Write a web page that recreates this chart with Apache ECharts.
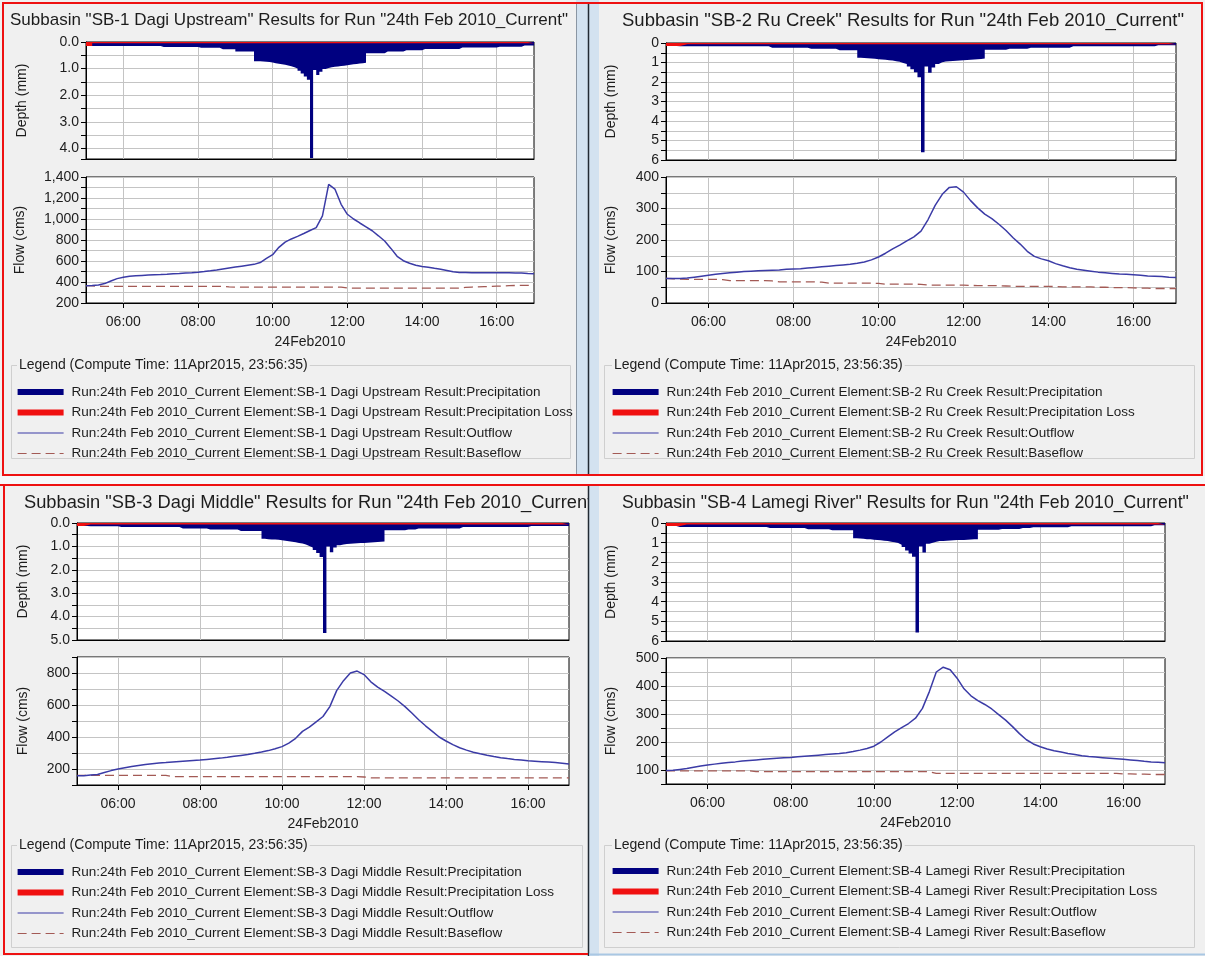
<!DOCTYPE html>
<html><head><meta charset="utf-8">
<script src="https://cdn.jsdelivr.net/npm/echarts@6/dist/echarts.min.js"></script>
<style>html,body{margin:0;padding:0;background:#f0f0f0}#c{width:1205px;height:956px}</style>
</head><body><div id="c"></div>
<script>
// ---------------- DATA ----------------
const SUBBASINS = ['SB-1 Dagi Upstream', 'SB-2 Ru Creek', 'SB-3 Dagi Middle', 'SB-4 Lamegi River'];
const RUN_NAME = '24th Feb 2010_Current';
const COMPUTE_TIME = '11Apr2015, 23:56:35';
const DATE_LABEL = '24Feb2010';
const TIME_TICKS = ['06:00', '08:00', '10:00', '12:00', '14:00', '16:00'];
const DEPTH_TICKS = [
  ['0.0', '1.0', '2.0', '3.0', '4.0'],
  ['0', '1', '2', '3', '4', '5', '6'],
  ['0.0', '1.0', '2.0', '3.0', '4.0', '5.0'],
  ['0', '1', '2', '3', '4', '5', '6']
];
const FLOW_TICKS = [
  ['200', '400', '600', '800', '1,000', '1,200', '1,400'],
  ['0', '100', '200', '300', '400'],
  ['200', '400', '600', '800'],
  ['100', '200', '300', '400', '500']
];

// precipitation depth (mm) per 5-minute step, 05:00 ... 17:00
const SB1_PRECIP = [
  0.15,0.15,0.15,0.15,0.15,0.15,0.15,0.15,0.15,0.15,0.15,0.15,
  0.15,0.15,0.15,0.15,0.15,0.15,0.15,0.15,0.15,0.15,0.15,0.15,
  0.19,0.19,0.19,0.19,0.19,0.19,0.19,0.19,0.19,0.19,0.19,0.19,
  0.22,0.22,0.22,0.22,0.22,0.22,0.22,0.27,0.27,0.27,0.27,0.27,
  0.36,0.36,0.36,0.36,0.36,0.36,0.72,0.72,0.73,0.74,0.75,0.77,
  0.80,0.82,0.84,0.86,0.88,0.91,0.95,1.00,1.08,1.18,1.30,1.42,
  4.36,1.05,1.24,1.12,1.02,0.98,0.95,0.93,0.92,0.90,0.89,0.87,
  0.86,0.84,0.83,0.81,0.80,0.78,0.42,0.42,0.42,0.42,0.42,0.42,
  0.36,0.36,0.36,0.36,0.36,0.36,0.31,0.31,0.31,0.31,0.31,0.31,
  0.26,0.26,0.26,0.26,0.26,0.26,0.26,0.26,0.26,0.26,0.26,0.26,
  0.21,0.21,0.21,0.21,0.21,0.21,0.21,0.21,0.21,0.21,0.21,0.21,
  0.18,0.18,0.18,0.18,0.18,0.18,0.18,0.18,0.13,0.13,0.13,0.13,
  0.13
];
const SB2_PRECIP = [
  0.15,0.15,0.15,0.17,0.17,0.17,0.17,0.17,0.17,0.17,0.17,0.17,
  0.17,0.17,0.17,0.17,0.17,0.17,0.17,0.17,0.17,0.17,0.17,0.17,
  0.17,0.17,0.17,0.17,0.17,0.24,0.24,0.24,0.24,0.24,0.24,0.24,
  0.24,0.24,0.24,0.24,0.29,0.29,0.29,0.29,0.29,0.29,0.29,0.29,
  0.37,0.37,0.37,0.37,0.37,0.37,0.75,0.77,0.78,0.80,0.81,0.83,
  0.85,0.86,0.88,0.90,0.93,0.96,1.02,1.08,1.20,1.35,1.50,1.75,
  5.60,1.20,1.52,1.25,1.08,0.99,0.95,0.93,0.92,0.91,0.90,0.88,
  0.87,0.86,0.85,0.83,0.82,0.80,0.35,0.35,0.35,0.35,0.35,0.35,
  0.30,0.30,0.30,0.30,0.30,0.30,0.24,0.24,0.24,0.24,0.24,0.24,
  0.24,0.24,0.24,0.24,0.24,0.24,0.17,0.17,0.17,0.17,0.17,0.17,
  0.17,0.17,0.17,0.17,0.17,0.17,0.17,0.17,0.17,0.17,0.17,0.17,
  0.17,0.17,0.17,0.17,0.17,0.17,0.12,0.12,0.12,0.12,0.12,0.12,
  0.12
];
const SB3_PRECIP = [
  0.13,0.13,0.13,0.14,0.14,0.14,0.14,0.14,0.14,0.14,0.14,0.14,
  0.17,0.17,0.17,0.17,0.17,0.17,0.17,0.17,0.17,0.17,0.17,0.17,
  0.17,0.17,0.17,0.17,0.17,0.17,0.24,0.24,0.24,0.24,0.24,0.24,
  0.24,0.24,0.28,0.28,0.28,0.28,0.28,0.28,0.28,0.28,0.28,0.34,
  0.34,0.34,0.34,0.34,0.34,0.34,0.67,0.69,0.70,0.71,0.72,0.74,
  0.76,0.78,0.80,0.82,0.85,0.88,0.92,0.98,1.05,1.15,1.28,1.45,
  4.70,1.00,1.25,1.05,0.95,0.92,0.90,0.89,0.88,0.87,0.86,0.85,
  0.84,0.83,0.82,0.81,0.80,0.79,0.31,0.31,0.31,0.31,0.31,0.31,
  0.28,0.28,0.28,0.24,0.24,0.24,0.24,0.24,0.24,0.24,0.24,0.24,
  0.24,0.24,0.24,0.24,0.17,0.17,0.17,0.17,0.17,0.17,0.17,0.17,
  0.17,0.17,0.17,0.17,0.17,0.17,0.17,0.17,0.17,0.17,0.17,0.17,
  0.13,0.13,0.13,0.13,0.13,0.13,0.13,0.13,0.13,0.13,0.13,0.13,
  0.13
];
const SB4_PRECIP = [
  0.15,0.15,0.15,0.20,0.20,0.20,0.20,0.20,0.20,0.20,0.20,0.20,
  0.20,0.20,0.20,0.20,0.20,0.20,0.20,0.20,0.20,0.20,0.20,0.20,
  0.20,0.20,0.20,0.20,0.20,0.26,0.26,0.26,0.26,0.26,0.26,0.26,
  0.26,0.26,0.26,0.26,0.32,0.32,0.32,0.32,0.32,0.32,0.32,0.37,
  0.37,0.37,0.37,0.37,0.37,0.37,0.77,0.79,0.80,0.82,0.83,0.85,
  0.87,0.88,0.90,0.92,0.95,0.98,1.02,1.10,1.22,1.40,1.55,1.72,
  5.57,1.20,1.50,1.06,1.00,0.95,0.92,0.91,0.90,0.89,0.88,0.87,
  0.86,0.86,0.85,0.84,0.83,0.82,0.34,0.34,0.34,0.34,0.34,0.34,
  0.30,0.30,0.30,0.30,0.30,0.30,0.26,0.26,0.26,0.22,0.22,0.22,
  0.22,0.22,0.22,0.22,0.22,0.22,0.22,0.22,0.17,0.17,0.17,0.17,
  0.17,0.17,0.17,0.17,0.17,0.17,0.17,0.17,0.17,0.17,0.17,0.17,
  0.17,0.17,0.17,0.17,0.17,0.17,0.17,0.17,0.12,0.12,0.12,0.12,
  0.12
];

// precipitation loss (mm) per 10-minute step, 05:00 ... 17:00
const SB1_LOSS = [
  0.15,0.05,0.05,0.05,0.05,0.05, 0.05,0.05,0.05,0.05,0.05,0.05, 0.05,0.05,0.05,0.05,0.05,0.05,
  0.05,0.05,0.05,0.05,0.05,0.05, 0.05,0.05,0.05,0.05,0.05,0.05, 0.05,0.05,0.05,0.05,0.05,0.05,
  0.05,0.05,0.05,0.05,0.05,0.05, 0.05,0.05,0.05,0.05,0.05,0.05, 0.05,0.05,0.05,0.05,0.05,0.05,
  0.05,0.05,0.05,0.05,0.05,0.05, 0.05,0.05,0.05,0.05,0.05,0.05, 0.05,0.05,0.05,0.05,0.05,0.05,
  0.05
];
const SB2_LOSS = [
  0.15,0.15,0.07,0.07,0.07,0.07, 0.07,0.07,0.07,0.07,0.07,0.07, 0.07,0.07,0.07,0.07,0.07,0.07,
  0.07,0.07,0.07,0.07,0.07,0.07, 0.07,0.07,0.07,0.07,0.07,0.07, 0.07,0.07,0.07,0.07,0.07,0.07,
  0.07,0.07,0.07,0.07,0.07,0.07, 0.07,0.07,0.07,0.07,0.07,0.07, 0.07,0.07,0.07,0.07,0.07,0.07,
  0.07,0.07,0.07,0.07,0.07,0.07, 0.07,0.07,0.07,0.07,0.07,0.07, 0.07,0.07,0.07,0.07,0.07,0.07,
  0.07
];
const SB3_LOSS = [
  0.13,0.06,0.06,0.06,0.06,0.06, 0.06,0.06,0.06,0.06,0.06,0.06, 0.06,0.06,0.06,0.06,0.06,0.06,
  0.06,0.06,0.06,0.06,0.06,0.06, 0.06,0.06,0.06,0.06,0.06,0.06, 0.06,0.06,0.06,0.06,0.06,0.06,
  0.06,0.06,0.06,0.06,0.06,0.06, 0.06,0.06,0.06,0.06,0.06,0.06, 0.06,0.06,0.06,0.06,0.06,0.06,
  0.06,0.06,0.06,0.06,0.06,0.06, 0.06,0.06,0.06,0.06,0.06,0.06, 0.06,0.06,0.06,0.06,0.06,0.06,
  0.06
];
const SB4_LOSS = [
  0.15,0.15,0.07,0.07,0.07,0.07, 0.07,0.07,0.07,0.07,0.07,0.07, 0.07,0.07,0.07,0.07,0.07,0.07,
  0.07,0.07,0.07,0.07,0.07,0.07, 0.07,0.07,0.07,0.07,0.07,0.07, 0.07,0.07,0.07,0.07,0.07,0.07,
  0.07,0.07,0.07,0.07,0.07,0.07, 0.07,0.07,0.07,0.07,0.07,0.07, 0.07,0.07,0.07,0.07,0.07,0.07,
  0.07,0.07,0.07,0.07,0.07,0.07, 0.07,0.07,0.07,0.07,0.07,0.07, 0.07,0.07,0.07,0.07,0.07,0.07,
  0.07
];

// flows (cms) per 10-minute step, 05:00 ... 17:00
const SB1_OUTFLOW = [
  365,366,372,385,410,432, 446,455,460,463,466,469, 471,474,478,481,485,489,
  494,500,507,515,524,533, 542,551,560,568,585,625, 660,730,780,810,835,862,
  890,918,1030,1330,1285,1140, 1045,1000,962,925,888,840, 790,720,645,603,578,560,
  548,540,530,522,510,497, 490,490,489,489,488,488, 488,487,487,486,485,481,
  478
];
const SB1_BASEFLOW = [
  365,363,360,359,359,359, 359,359,359,359,359,359, 359,359,359,359,359,359,
  359,359,359,359,359,353, 352,352,352,352,352,352, 352,352,352,352,352,352,
  352,352,352,352,352,352, 343,341,341,341,341,341, 341,341,341,341,341,341,
  341,341,341,341,341,341, 342,348,352,354,356,358, 360,362,365,367,368,368,
  368
];
const SB2_OUTFLOW = [
  78,78,78,79,82,85, 88,91,94,96,98,100, 101,102,103,104,105,107,
  108,109,111,113,115,117, 119,121,123,126,130,137, 146,158,172,184,197,210,
  228,265,310,345,367,369, 352,325,302,282,268,250, 230,207,187,164,148,140,
  134,125,118,112,107,104, 101,98,96,94,92,91, 90,88,86,85,84,82,
  81
];
const SB2_BASEFLOW = [
  78,77,76,75,75,75, 75,75,74,71,71,71, 71,71,71,70,67,67,
  67,67,67,67,66,63, 63,63,63,63,63,63, 62,60,60,60,60,60,
  59,57,57,57,57,57, 57,56,55,55,55,55, 54,53,53,53,53,53,
  53,52,51,51,51,51, 51,50,50,49,49,49, 48,47,47,46,46,46,
  46
];
const SB3_OUTFLOW = [
  158,158,162,166,178,190, 200,208,216,222,228,233, 237,240,244,247,250,253,
  256,260,264,268,273,279, 285,291,298,306,315,327, 340,362,392,435,462,495,
  528,590,690,752,800,812, 790,745,712,685,655,625, 590,550,508,470,435,400,
  375,352,333,318,305,295, 286,278,271,265,260,256, 252,249,246,243,240,236,
  231
];
const SB3_BASEFLOW = [
  160,160,160,160,160,160, 160,160,160,160,160,160, 160,160,152,152,152,152,
  152,152,152,152,152,152, 152,152,152,152,152,152, 152,152,152,152,152,152,
  152,152,152,152,152,152, 150,145,145,145,145,145, 145,145,145,145,145,145,
  145,145,145,145,145,145, 145,145,145,145,145,145, 145,145,145,145,145,145,
  145
];
const SB4_OUTFLOW = [
  98,99,102,105,110,114, 118,121,124,127,129,132, 134,136,138,140,142,144,
  145,147,149,151,153,155, 157,159,162,166,171,177, 185,200,218,236,251,266,
  285,320,380,450,467,458, 428,390,365,348,334,318, 298,278,255,230,208,193,
  183,175,169,164,159,155, 151,148,146,144,142,140, 138,136,134,131,129,128,
  126
];
const SB4_BASEFLOW = [
  97,97,97,97,97,97, 97,97,97,97,97,97, 97,94,94,94,94,94,
  94,94,94,94,94,94, 94,94,94,94,94,94, 94,94,94,94,94,94,
  94,94,94,88,88,88, 88,88,88,88,88,88, 88,88,88,88,88,88,
  88,88,88,88,88,88, 88,88,88,88,88,88, 86,86,85,85,84,84,
  84
];

const PANEL_DATA = [
  { precip: SB1_PRECIP, loss: SB1_LOSS, outflow: SB1_OUTFLOW, baseflow: SB1_BASEFLOW },
  { precip: SB2_PRECIP, loss: SB2_LOSS, outflow: SB2_OUTFLOW, baseflow: SB2_BASEFLOW },
  { precip: SB3_PRECIP, loss: SB3_LOSS, outflow: SB3_OUTFLOW, baseflow: SB3_BASEFLOW },
  { precip: SB4_PRECIP, loss: SB4_LOSS, outflow: SB4_OUTFLOW, baseflow: SB4_BASEFLOW }
];

// ---------------- time stamps ----------------
function hm(s) { const p = s.split(':'); return +p[0] + (+p[1]) / 60; }
function timeGrid(start, end, stepMin) {
  const out = [];
  for (let m = Math.round(hm(start) * 60); m <= Math.round(hm(end) * 60); m += stepMin) {
    out.push(String(Math.floor(m / 60)).padStart(2, '0') + ':' + String(m % 60).padStart(2, '0'));
  }
  return out;
}
const PRECIP_TIMES = timeGrid('05:00', '17:00', 5);
const FLOW_TIMES = timeGrid('05:00', '17:00', 10);

// ---------------- LAYOUT / STYLE ----------------
const FONT = '"Liberation Sans", Arial, Helvetica, sans-serif';
const TXT = '#1c1c1c';
const NAVY = '#000080', RED = '#f01010', OUTC = '#3b3ba6', BASEC = '#a35a55';
const GRIDC = '#c4c4c4';
const LAYOUT = [
  { depth: { left: 86, top: 42, width: 448, height: 117 }, flow: { left: 86, top: 177, width: 448, height: 126 },
    depthMax: 4.4, flowMin: 200, flowMax: 1400, flowInt: 100, nameGap: 57,
    title: { left: 10, top: 12, size: 17 }, legend: { left: 17, top: 385 },
    frame: [11.5, 365.5, 559, 93], ltitle: [17, 365] },
  { depth: { left: 666, top: 43, width: 510, height: 117 }, flow: { left: 666, top: 177, width: 510, height: 126 },
    depthMax: 6, flowMin: 0, flowMax: 400, flowInt: 50, nameGap: 48,
    title: { left: 622, top: 11, size: 18.5 }, legend: { left: 612, top: 385 },
    frame: [604.5, 365.5, 590, 93], ltitle: [612, 365] },
  { depth: { left: 77, top: 523, width: 492, height: 117 }, flow: { left: 77, top: 657, width: 492, height: 128 },
    depthMax: 5, flowMin: 100, flowMax: 900, flowInt: 100, nameGap: 47,
    title: { left: 24, top: 494, size: 18.3 }, legend: { left: 17, top: 865 },
    frame: [11.5, 845.5, 571, 102], ltitle: [17, 845] },
  { depth: { left: 666, top: 523, width: 499, height: 118 }, flow: { left: 666, top: 658, width: 499, height: 126 },
    depthMax: 6, flowMin: 50, flowMax: 500, flowInt: 50, nameGap: 48,
    title: { left: 622, top: 494, size: 17.7 }, legend: { left: 612, top: 864 },
    frame: [604.5, 845.5, 590, 102], ltitle: [612, 845] }
];

function labelFor(v, labels) {
  for (const l of labels) { if (Math.abs(parseFloat(l.replace(/,/g, '')) - v) < 1e-6) return l; }
  return '';
}
const TICK_HOURS = TIME_TICKS.map(hm);

const grids = [], xAxes = [], yAxes = [], series = [], titles = [], legends = [], graphics = [];

SUBBASINS.forEach((sb, i) => {
  const L = LAYOUT[i], D = PANEL_DATA[i];
  const gi = grids.length;
  const gridBase = { show: true, backgroundColor: '#ffffff', borderColor: '#000', borderWidth: 1, containLabel: false, outerBoundsMode: 'none' };
  grids.push(Object.assign({}, gridBase, L.depth));
  grids.push(Object.assign({}, gridBase, L.flow));

  [false, true].forEach((isFlow, j) => {
    xAxes.push({
      type: 'value', gridIndex: gi + j, min: hm('05:00'), max: hm('17:00'),
      axisLine: { show: true, onZero: false, lineStyle: { color: '#000', width: 1 } },
      axisTick: { show: isFlow, customValues: TICK_HOURS, length: 5, lineStyle: { color: '#000' } },
      axisLabel: { show: isFlow, customValues: TICK_HOURS, margin: 12, fontSize: 14, color: TXT, fontFamily: FONT,
        formatter: v => { const k = TICK_HOURS.findIndex(h => Math.abs(h - v) < 1e-6); return k >= 0 ? TIME_TICKS[k] : ''; } },
      splitLine: { show: true, lineStyle: { color: GRIDC, width: 1 } },
      name: isFlow ? DATE_LABEL : '', nameLocation: 'middle', nameGap: 32,
      nameTextStyle: { fontSize: 14, color: TXT, fontFamily: FONT }
    });
  });

  yAxes.push({
    type: 'value', gridIndex: gi, inverse: true, min: 0, max: L.depthMax, interval: 0.5,
    axisLine: { show: true, onZero: false, lineStyle: { color: '#000' } },
    axisTick: { show: true, length: 5, lineStyle: { color: '#000' } },
    axisLabel: { margin: 7, fontSize: 14, color: TXT, fontFamily: FONT, formatter: v => labelFor(v, DEPTH_TICKS[i]) },
    splitLine: { show: true, lineStyle: { color: GRIDC } },
    name: 'Depth (mm)', nameLocation: 'middle', nameRotate: 90, nameGap: L.nameGap,
    nameTextStyle: { fontSize: 14, color: TXT, fontFamily: FONT }
  });
  yAxes.push({
    type: 'value', gridIndex: gi + 1, min: L.flowMin, max: L.flowMax, interval: L.flowInt,
    axisLine: { show: true, onZero: false, lineStyle: { color: '#000' } },
    axisTick: { show: true, length: 5, lineStyle: { color: '#000' } },
    axisLabel: { margin: 7, fontSize: 14, color: TXT, fontFamily: FONT, formatter: v => labelFor(v, FLOW_TICKS[i]) },
    splitLine: { show: true, lineStyle: { color: GRIDC } },
    name: 'Flow (cms)', nameLocation: 'middle', nameRotate: 90, nameGap: L.nameGap + (i === 0 ? 2 : 0),
    nameTextStyle: { fontSize: 14, color: TXT, fontFamily: FONT }
  });

  const base = `Run:${RUN_NAME} Element:${sb} Result:`;
  const names = [base + 'Precipitation', base + 'Precipitation Loss', base + 'Outflow', base + 'Baseflow'];

  series.push({ name: names[0], type: 'line', xAxisIndex: gi, yAxisIndex: gi, step: 'end', symbol: 'none',
    color: NAVY, lineStyle: { width: 0, color: NAVY }, areaStyle: { color: NAVY, opacity: 1 }, z: 2, silent: true,
    data: PRECIP_TIMES.map((t, k) => [hm(t), D.precip[k]]) });
  series.push({ name: names[1], type: 'line', xAxisIndex: gi, yAxisIndex: gi, step: 'end', symbol: 'none',
    color: RED, lineStyle: { width: 0, color: RED }, areaStyle: { color: RED, opacity: 1 }, z: 3, silent: true,
    data: FLOW_TIMES.map((t, k) => [hm(t), D.loss[k]]) });
  series.push({ name: names[2], type: 'line', xAxisIndex: gi + 1, yAxisIndex: gi + 1, symbol: 'none', showSymbol: false,
    color: OUTC, lineStyle: { width: 1.5, color: OUTC }, z: 3, silent: true,
    data: FLOW_TIMES.map((t, k) => [hm(t), D.outflow[k]]) });
  series.push({ name: names[3], type: 'line', xAxisIndex: gi + 1, yAxisIndex: gi + 1, symbol: 'none', showSymbol: false,
    color: BASEC, lineStyle: { width: 1.3, color: BASEC, type: [9, 5] }, z: 2, silent: true,
    data: FLOW_TIMES.map((t, k) => [hm(t), D.baseflow[k]]) });

  titles.push({ text: `Subbasin "${sb}" Results for Run "${RUN_NAME}"`, left: L.title.left, top: L.title.top, padding: 0,
    textStyle: { fontSize: L.title.size, fontWeight: 'normal', color: TXT, fontFamily: FONT } });

  legends.push({
    orient: 'vertical', left: L.legend.left, top: L.legend.top, padding: 0, itemGap: 6.5,
    itemWidth: 46, itemHeight: 6, selectedMode: false,
    textStyle: { fontSize: 13.5, color: TXT, fontFamily: FONT, lineHeight: 14, padding: [0, 0, 0, 3] },
    data: [
      { name: names[0], icon: 'rect', itemStyle: { color: NAVY, opacity: 1, borderWidth: 0 } },
      { name: names[1], icon: 'rect', itemStyle: { color: RED, opacity: 1, borderWidth: 0 } },
      { name: names[2], itemStyle: { opacity: 0 }, lineStyle: { width: 1.2 } },
      { name: names[3], itemStyle: { opacity: 0 }, lineStyle: { width: 1.2 } }
    ]
  });

  graphics.push({ type: 'rect', silent: true, z: 1,
    shape: { x: L.frame[0], y: L.frame[1], width: L.frame[2], height: L.frame[3] },
    style: { fill: 'none', stroke: '#cfcfcf', lineWidth: 1 } });
  graphics.push({ type: 'text', silent: true, z: 2, x: L.ltitle[0], y: L.ltitle[1],
    style: { text: `Legend (Compute Time: ${COMPUTE_TIME})`, font: `14px ${FONT}`, fill: TXT,
      verticalAlign: 'middle', backgroundColor: '#f0f0f0', padding: [0, 2] } });
});

// window chrome (overlays)
graphics.push(
  { type: 'rect', silent: true, z: 100, shape: { x: 0, y: 476, width: 1205, height: 9 }, style: { fill: '#f6f8fa' } },
  { type: 'rect', silent: true, z: 100, shape: { x: 576, y: 0, width: 23, height: 476 }, style: { fill: '#d3e2f0' } },
  { type: 'rect', silent: true, z: 100, shape: { x: 588, y: 485, width: 11, height: 471 }, style: { fill: '#d3e2f0' } },
  { type: 'line', silent: true, z: 101, shape: { x1: 576.5, y1: 4, x2: 576.5, y2: 475 }, style: { stroke: '#8a96a3', lineWidth: 1 } },
  { type: 'line', silent: true, z: 101, shape: { x1: 588.5, y1: 4, x2: 588.5, y2: 475 }, style: { stroke: '#222a33', lineWidth: 1.5 } },
  { type: 'line', silent: true, z: 101, shape: { x1: 588.5, y1: 486, x2: 588.5, y2: 956 }, style: { stroke: '#222a33', lineWidth: 1.5 } },
  { type: 'rect', silent: true, z: 102, shape: { x: 3, y: 3, width: 1199, height: 472 }, style: { fill: 'none', stroke: '#ee1111', lineWidth: 2 } },
  { type: 'line', silent: true, z: 102, shape: { x1: 0, y1: 485, x2: 1205, y2: 485 }, style: { stroke: '#ee1111', lineWidth: 2 } },
  { type: 'line', silent: true, z: 102, shape: { x1: 4, y1: 485, x2: 4, y2: 955 }, style: { stroke: '#ee1111', lineWidth: 2 } },
  { type: 'line', silent: true, z: 102, shape: { x1: 4, y1: 954, x2: 588, y2: 954 }, style: { stroke: '#ee1111', lineWidth: 2 } },
  { type: 'line', silent: true, z: 102, shape: { x1: 589, y1: 954.5, x2: 1205, y2: 954.5 }, style: { stroke: '#a9c7e3', lineWidth: 2 } }
);

const chart = echarts.init(document.getElementById('c'), null, { renderer: 'canvas', width: 1205, height: 956 });
chart.setOption({
  animation: false,
  backgroundColor: '#f0f0f0',
  textStyle: { fontFamily: FONT },
  title: titles,
  legend: legends,
  grid: grids,
  xAxis: xAxes,
  yAxis: yAxes,
  series: series,
  graphic: { elements: graphics }
});
</script></body></html>
